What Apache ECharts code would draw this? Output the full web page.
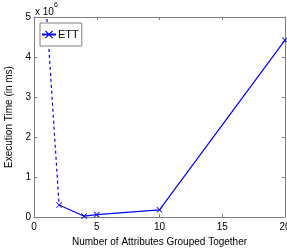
<!DOCTYPE html>
<html>
<head>
<meta charset="utf-8">
<script src="https://cdn.jsdelivr.net/npm/echarts@6/dist/echarts.min.js"></script>
<style>
html,body{margin:0;padding:0;background:#fff;}
#chart{width:287px;height:251px;}
</style>
</head>
<body>
<div id="chart"></div>
<script>
// attributes grouped together vs execution time (x 10^6 ms)
var groupSizes = [2, 4, 5, 10, 20];
var execTimes = [0.3, 0.02, 0.06, 0.18, 4.42];
// first segment leaves the top of the plot (dashed)
var offGroupSizes = [1, 2];
var offExecTimes = [5.1, 0.3];

var xTicks = [0, 5, 10, 15, 20];
var yTicks = [0, 1, 2, 3, 4, 5];

var crossPath = 'path://M0,1L1,0L5,4L9,0L10,1L6,5L10,9L9,10L5,6L1,10L0,9L4,5Z';
var font = 'Liberation Sans, Arial, sans-serif';
var axisGray = '#7f7f7f';

var mainData = [];
for (var i = 0; i < groupSizes.length; i++) {
    mainData.push([groupSizes[i], execTimes[i]]);
}
var offData = [];
for (var j = 0; j < offGroupSizes.length; j++) {
    offData.push([offGroupSizes[j], offExecTimes[j]]);
}

var chart = echarts.init(document.getElementById('chart'));

var option = {
    animation: false,
    backgroundColor: '#fff',
    grid: {left: 34, right: 2, top: 17, bottom: 34, outerBoundsMode: 'none', containLabel: false},
    legend: {
        data: ['ETT'],
        left: 40,
        top: 23,
        orient: 'vertical',
        backgroundColor: '#fff',
        borderColor: axisGray,
        borderWidth: 1,
        borderRadius: 0,
        padding: [6, 3, 6, 1],
        itemWidth: 14,
        itemHeight: 10,
        itemGap: 2,
        textStyle: {fontFamily: font, fontSize: 11, color: '#000', padding: [0, 0, 0, -3]}
    },
    graphic: [{
        type: 'text',
        left: 35,
        top: 2,
        style: {
            text: '{a|x 10}{b|6}',
            rich: {
                a: {fontFamily: font, fontSize: 10, color: '#000', padding: [5, 0, 0, 0]},
                b: {fontFamily: font, fontSize: 7, color: '#000', verticalAlign: 'top'}
            }
        }
    }],
    xAxis: [{
        type: 'value',
        min: xTicks[0],
        max: xTicks[xTicks.length - 1],
        interval: 5,
        name: 'Number of Attributes Grouped Together',
        nameLocation: 'middle',
        nameGap: 16,
        nameTextStyle: {fontFamily: font, fontSize: 10, color: '#000'},
        axisLine: {onZero: false, lineStyle: {color: axisGray, width: 1}},
        axisTick: {inside: true, length: 3, lineStyle: {color: axisGray}},
        axisLabel: {fontFamily: font, fontSize: 10, color: '#000', margin: 5, showMaxLabel: true},
        splitLine: {show: false}
    }, {
        type: 'value',
        position: 'top',
        min: xTicks[0],
        max: xTicks[xTicks.length - 1],
        interval: 5,
        axisLine: {onZero: false, lineStyle: {color: axisGray, width: 1}},
        axisTick: {inside: true, length: 3, lineStyle: {color: axisGray}},
        axisLabel: {show: false},
        splitLine: {show: false}
    }],
    yAxis: [{
        type: 'value',
        min: yTicks[0],
        max: yTicks[yTicks.length - 1],
        interval: 1,
        name: 'Execution Time (in ms)',
        nameLocation: 'middle',
        nameGap: 14,
        nameTextStyle: {fontFamily: font, fontSize: 10, color: '#000'},
        axisLine: {show: true, onZero: false, lineStyle: {color: axisGray, width: 1}},
        axisTick: {show: true, inside: true, length: 3, lineStyle: {color: axisGray}},
        axisLabel: {fontFamily: font, fontSize: 10, color: '#000', margin: 3},
        splitLine: {show: false}
    }, {
        type: 'value',
        position: 'right',
        min: yTicks[0],
        max: yTicks[yTicks.length - 1],
        interval: 1,
        axisLine: {show: true, onZero: false, lineStyle: {color: axisGray, width: 1}},
        axisTick: {show: true, inside: true, length: 3, lineStyle: {color: axisGray}},
        axisLabel: {show: false},
        splitLine: {show: false}
    }],
    series: [{
        name: 'offscale',
        type: 'line',
        data: offData,
        clip: true,
        showSymbol: false,
        symbol: 'none',
        lineStyle: {color: '#0000ff', width: 1.2, type: [3, 3]},
        z: 2
    }, {
        name: 'ETT',
        type: 'line',
        data: mainData,
        clip: false,
        symbol: crossPath,
        symbolSize: 6,
        color: '#0000ff',
        itemStyle: {color: '#0000ff'},
        lineStyle: {color: '#0000ff', width: 1.2},
        z: 3
    }]
};

chart.setOption(option);
</script>
</body>
</html>
